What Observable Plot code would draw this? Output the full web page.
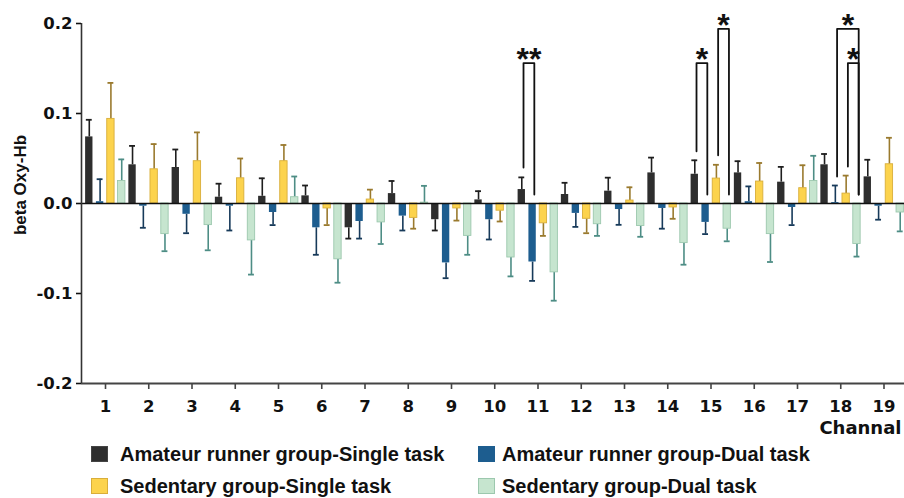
<!DOCTYPE html>
<html><head><meta charset="utf-8">
<script src="https://cdn.jsdelivr.net/npm/d3@7"></script>
<script src="https://cdn.jsdelivr.net/npm/@observablehq/plot@0.6"></script>
<style>
body{margin:0;background:#fff;}
#wrap{position:relative;width:904px;height:498px;overflow:hidden;}
#legend{position:absolute;left:0;top:440px;width:904px;height:58px;font-family:"Liberation Sans",Arial,sans-serif;font-weight:bold;font-size:20px;color:#111;}
.sw{position:absolute;width:15px;height:14px;border:1px solid;}
.lt{position:absolute;line-height:20px;white-space:nowrap;}
</style></head><body>
<div id="wrap"><div id="chart"></div><div id="legend"></div></div>
<script>
// ---- data ----
const channels = [1,2,3,4,5,6,7,8,9,10,11,12,13,14,15,16,17,18,19];
const groups = ["Amateur runner group-Single task","Amateur runner group-Dual task","Sedentary group-Single task","Sedentary group-Dual task"];
const runnerSingle    = [0.074,0.043,0.040,0.007,0.008,0.0085,-0.027,0.011,-0.018,0.004,0.0155,0.010,0.0137,0.034,0.0325,0.034,0.0237,0.043,0.0296];
const runnerSingleErr = [0.019,0.021,0.020,0.015,0.020,0.0115,0.012,0.014,0.012,0.0097,0.0135,0.013,0.015,0.017,0.0155,0.013,0.017,0.012,0.019];
const runnerDual      = [0.002,-0.003,-0.012,-0.003,-0.010,-0.027,-0.020,-0.014,-0.066,-0.018,-0.065,-0.011,-0.0067,-0.0055,-0.021,0.002,-0.0044,0.001,-0.003];
const runnerDualErr   = [0.025,0.024,0.021,0.027,0.014,0.030,0.019,0.016,0.017,0.022,0.021,0.015,0.017,0.0225,0.013,0.017,0.0196,0.019,0.015];
const sedSingle       = [0.094,0.038,0.047,0.028,0.047,-0.0055,0.0044,-0.016,-0.0055,-0.008,-0.022,-0.017,0.0033,-0.0044,0.0277,0.0244,0.017,0.011,0.0436];
const sedSingleErr    = [0.040,0.028,0.032,0.022,0.018,0.0185,0.011,0.012,0.0135,0.012,0.014,0.016,0.0147,0.0126,0.0153,0.0206,0.0255,0.020,0.0294];
const sedDual         = [0.025,-0.034,-0.024,-0.041,0.007,-0.062,-0.021,0.001,-0.036,-0.060,-0.0765,-0.023,-0.025,-0.044,-0.028,-0.034,0.025,-0.045,-0.010];
const sedDualErr      = [0.024,0.019,0.028,0.038,0.023,0.026,0.024,0.0186,0.021,0.021,0.0315,0.013,0.012,0.024,0.014,0.031,0.028,0.014,0.021];
const yTicks = [-0.2,-0.1,0,0.1,0.2];
// significance brackets: channel, left group, right group, top value, left leg end, right leg end, label
const brCh    = [11,15,15,18,18];
const brFrom  = [0,0,2,1,2];
const brTo    = [1,1,3,3,3];
const brTop   = [0.156,0.156,0.194,0.194,0.156];
const brLeft  = [0.040,0.058,0.0535,0.030,0.041];
const brRight = [0.010,0.010,0.010,0.010,0.010];
const brLabel = ["**","*","*","*","*"];

// ---- styles ----
const fills   = ["#2e2e2e","#1d5d8f","#fcd34d","#c6e5cf"];
const strokes = ["#2e2e2e","#1d5d8f","#d9ae3a","#9cc8ae"];
const errCol  = ["#1e1e1e","#173a5a","#9a7a2e","#4d8d85"];
const offs = [-0.375,-0.125,0.125,0.375];
const bw = 0.17, cw = 0.068;

const series = [[runnerSingle,runnerSingleErr],[runnerDual,runnerDualErr],[sedSingle,sedSingleErr],[sedDual,sedDualErr]];
const marks = [];
series.forEach(([vals, errs], g) => {
  const rows = channels.map((ch, i) => ({ch, v: vals[i], e: errs[i]}));
  const cx = d => d.ch + offs[g];
  const tip = d => d.v + (d.v >= 0 ? 1 : -1) * d.e;
  marks.push(Plot.ruleX(rows, {x: cx, y1: d => d.v, y2: tip, stroke: errCol[g], strokeWidth: 1.6}));
  marks.push(Plot.ruleY(rows, {y: tip, x1: d => cx(d) - cw, x2: d => cx(d) + cw, stroke: errCol[g], strokeWidth: 1.8}));
  marks.push(Plot.rect(rows, {x1: d => cx(d) - bw/2, x2: d => cx(d) + bw/2, y1: 0, y2: d => d.v,
    fill: fills[g], stroke: strokes[g], strokeWidth: g >= 2 ? 0.9 : 0}));
});

const brPts = [];
const brText = [];
brCh.forEach((ch, k) => {
  const xl = ch + offs[brFrom[k]] + 0.04, xr = ch + offs[brTo[k]] + 0.04;
  brPts.push({k, x: xl, y: brLeft[k]}, {k, x: xl, y: brTop[k]}, {k, x: xr, y: brTop[k]}, {k, x: xr, y: brRight[k]});
  brText.push({x: (xl + xr) / 2, y: brTop[k], t: brLabel[k]});
});

const xMin = 0.445, xMax = 19.474;
const chart = Plot.plot({
  width: 904, height: 440,
  marginLeft: 81, marginRight: 0, marginTop: 23, marginBottom: 57,
  style: {fontFamily: "DejaVu Sans", fontWeight: "bold", fontSize: "16.5px", color: "#111", background: "#fff"},
  x: {domain: [xMin, xMax], label: null},
  y: {domain: [-0.2, 0.2], label: null},
  marks: [
    ...marks,
    Plot.ruleY([0], {stroke: "#111", strokeWidth: 1.6}),
    Plot.ruleY([-0.2], {stroke: "#444", strokeWidth: 2}),
    Plot.ruleX([xMin], {y1: -0.2, y2: 0.2, stroke: "#333", strokeWidth: 1.6}),
    Plot.axisX({ticks: channels, tickSize: 6, tickPadding: 11, tickFormat: d => String(d), stroke: "#444", strokeWidth: 1.6}),
    Plot.axisY({ticks: yTicks, tickSize: 5, tickPadding: 4, tickFormat: d => d.toFixed(1), strokeWidth: 1.6}),
    Plot.line(brPts, {x: "x", y: "y", z: "k", stroke: "#111", strokeWidth: 1.8}),
    Plot.text(brText, {x: "x", y: "y", text: "t", fontSize: 32, fontFamily: "Liberation Sans", fontWeight: "bold", lineAnchor: "bottom", dy: 7}),
    Plot.text(["beta Oxy-Hb"], {text: d => d, frameAnchor: "left", dx: -60.5, dy: -18.5, rotate: -90, fontSize: 17, fontFamily: "Liberation Sans", fontWeight: "bold", textAnchor: "middle", lineAnchor: "middle"}),
    Plot.text(["Channal"], {text: d => d, frameAnchor: "bottom-right", dx: -3, dy: 50, textAnchor: "end", lineAnchor: "bottom", fontSize: 18})
  ]
});
document.getElementById("chart").appendChild(chart);

// legend
const lg = document.getElementById("legend");
const colX = [[91,120],[478,502]];
const rowY = [[6,3.8],[38,36.1]];
groups.forEach((name, g) => {
  const c = g % 2, r = Math.floor(g / 2);
  const sw = document.createElement("div");
  sw.className = "sw";
  sw.style.left = colX[c][0] + "px"; sw.style.top = rowY[r][0] + "px";
  sw.style.background = fills[g]; sw.style.borderColor = g === 0 ? "#444" : strokes[g];
  lg.appendChild(sw);
  const t = document.createElement("div");
  t.className = "lt";
  t.style.left = colX[c][1] + "px"; t.style.top = rowY[r][1] + "px";
  t.textContent = name;
  lg.appendChild(t);
});
</script>
</body></html>
